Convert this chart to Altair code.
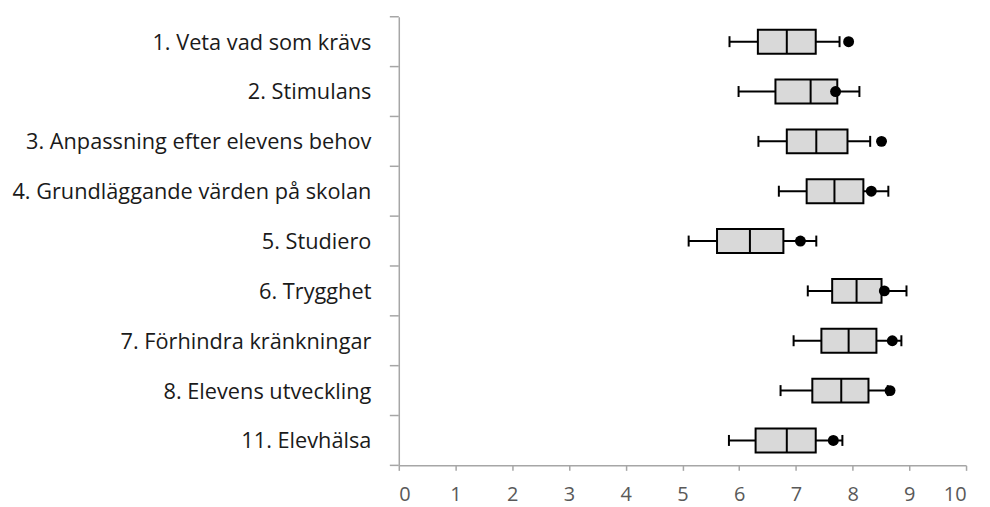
import altair as alt
import pandas as pd

labels = [
    "1. Veta vad som krävs",
    "2. Stimulans",
    "3. Anpassning efter elevens behov",
    "4. Grundläggande värden på skolan",
    "5. Studiero",
    "6. Trygghet",
    "7. Förhindra kränkningar",
    "8. Elevens utveckling",
    "11. Elevhälsa",
]
mins = [5.83, 5.99, 6.34, 6.70, 5.11, 7.21, 6.96, 6.73, 5.82]
q1s = [6.33, 6.64, 6.84, 7.19, 5.61, 7.64, 7.45, 7.29, 6.29]
medians = [6.84, 7.26, 7.36, 7.68, 6.19, 8.07, 7.93, 7.80, 6.84]
q3s = [7.35, 7.73, 7.91, 8.19, 6.78, 8.51, 8.42, 8.28, 7.35]
maxs = [7.77, 8.12, 8.31, 8.63, 7.36, 8.95, 8.86, 8.62, 7.82]
means = [7.93, 7.70, 8.51, 8.33, 7.08, 8.56, 8.70, 8.66, 7.66]
x_ticks = list(range(0, 11))

df = pd.DataFrame({
    "label": labels, "min": mins, "q1": q1s, "median": medians,
    "q3": q3s, "max": maxs, "mean": means,
})

FONT = "Open Sans"
AXIS_GRAY = "#a6a6a6"

yscale = alt.Scale(domain=labels, paddingInner=0, paddingOuter=0)
y_enc = alt.Y(
    "label:N", sort=labels, scale=yscale, title=None,
    axis=alt.Axis(
        ticks=False, domain=True, domainColor=AXIS_GRAY, domainWidth=1.5,
        labelFontSize=21.8, labelFont=FONT, labelColor="#1a1a1a",
        labelPadding=28, labelLimit=0, minExtent=392, maxExtent=392,
        labelOffset=1,
    ),
)
xscale = alt.Scale(domain=[0, 10], nice=False)
x_axis = alt.Axis(
    values=x_ticks, grid=False, domainColor=AXIS_GRAY, domainWidth=1.5,
    tickColor=AXIS_GRAY, tickWidth=1.5, tickSize=5,
    labelFontSize=20, labelFont=FONT, labelColor="#595959", labelPadding=14,
    format="d",
)

base = alt.Chart(df)

whisker = base.mark_rule(color="black", strokeWidth=2).encode(
    x=alt.X("min:Q", scale=xscale, axis=x_axis, title=None),
    x2="max:Q",
    y=y_enc,
)
caps_lo = base.mark_tick(color="black", size=11, thickness=2, opacity=1).encode(
    x="min:Q", y=alt.Y("label:N", sort=labels)
)
caps_hi = base.mark_tick(color="black", size=11, thickness=2, opacity=1).encode(
    x="max:Q", y=alt.Y("label:N", sort=labels)
)
box = base.mark_bar(size=24, fill="#d9d9d9", stroke="black", strokeWidth=2).encode(
    x="q1:Q", x2="q3:Q", y=alt.Y("label:N", sort=labels)
)
med = base.mark_tick(color="black", size=24, thickness=2, opacity=1).encode(
    x="median:Q", y=alt.Y("label:N", sort=labels)
)
dot = base.mark_circle(color="black", size=120, opacity=1).encode(
    x="mean:Q", y=alt.Y("label:N", sort=labels)
)
yticks = base.mark_rule(color=AXIS_GRAY, strokeWidth=1.5).encode(
    y=alt.Y("label:N", sort=labels, bandPosition=0),
    x=alt.value(-9), x2=alt.value(0),
)
ytick_bottom = alt.Chart(pd.DataFrame({"label": [labels[-1]]})).mark_rule(
    color=AXIS_GRAY, strokeWidth=1.5
).encode(
    y=alt.Y("label:N", sort=labels, bandPosition=1),
    x=alt.value(-9), x2=alt.value(0),
)

chart = (
    alt.layer(whisker, caps_lo, caps_hi, box, med, dot, yticks, ytick_bottom)
    .properties(width=569, height=450, padding={"left": 0, "top": 7, "right": 15, "bottom": 5})
    .configure_view(stroke=None)
)

chart.save("out.html", embed_options={"renderer": "svg", "actions": False})
